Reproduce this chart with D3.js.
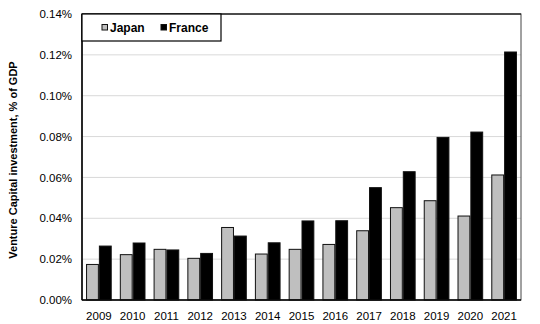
<!DOCTYPE html>
<html>
<head>
<meta charset="utf-8">
<script src="https://cdn.jsdelivr.net/npm/d3@7"></script>
<style>
  html, body { margin: 0; padding: 0; background: #fff; }
  svg { display: block; font-family: "Liberation Sans", Arial, sans-serif; }
</style>
</head>
<body>
<svg id="chart" width="540" height="324"></svg>
<script>
const years = ["2009","2010","2011","2012","2013","2014","2015","2016","2017","2018","2019","2020","2021"];
const japan = [0.0174,0.0222,0.0248,0.0204,0.0355,0.0225,0.0248,0.0272,0.0339,0.0452,0.0486,0.0411,0.0612];
const france = [0.0264,0.0279,0.0245,0.0228,0.0313,0.0280,0.0387,0.0388,0.0550,0.0628,0.0796,0.0822,0.1214];
const seriesNames = ["Japan","France"];
const seriesColors = ["#bfbfbf","#000000"];
const yTicks = [0,0.02,0.04,0.06,0.08,0.10,0.12,0.14];
const yTitle = "Venture Capital investment, % of GDP";

const svg = d3.select("#chart");
const L = 82, R = 521, T = 14, B = 300;

const x = d3.scaleBand().domain(years).range([L, R]).paddingInner(0.24).paddingOuter(0.12);
const xs = d3.scaleBand().domain(seriesNames).range([0, x.bandwidth()]);
const y = d3.scaleLinear().domain([0, 0.14]).range([B, T]);

// gridlines
svg.append("g").selectAll("line").data(yTicks.slice(1)).join("line")
  .attr("x1", L).attr("x2", R)
  .attr("y1", d => y(d)).attr("y2", d => y(d))
  .attr("stroke", "#d9d9d9").attr("stroke-width", 1);

// bars
const data = years.map((yr, i) => ({ yr, vals: [japan[i], france[i]] }));
const groups = svg.append("g").selectAll("g").data(data).join("g")
  .attr("transform", d => `translate(${x(d.yr)},0)`);
groups.selectAll("rect").data(d => d.vals.map((v, j) => ({ v, s: seriesNames[j], c: seriesColors[j] })))
  .join("rect")
  .attr("x", d => xs(d.s) + 0.5)
  .attr("width", xs.bandwidth() - 1)
  .attr("y", d => y(d.v))
  .attr("height", d => B - y(d.v))
  .attr("fill", d => d.c)
  .attr("stroke", "#111")
  .attr("stroke-width", 1);

// frame
svg.append("rect").attr("x", L).attr("y", T).attr("width", R - L).attr("height", B - T)
  .attr("fill", "none").attr("stroke", "#444").attr("stroke-width", 1);
svg.append("line").attr("x1", L).attr("x2", L).attr("y1", T).attr("y2", B)
  .attr("stroke", "#000").attr("stroke-width", 1.5);
svg.append("line").attr("x1", L).attr("x2", R).attr("y1", B).attr("y2", B)
  .attr("stroke", "#000").attr("stroke-width", 1.5);
svg.append("line").attr("x1", L).attr("x2", R).attr("y1", T).attr("y2", T)
  .attr("stroke", "#000").attr("stroke-width", 1.2);

// y axis labels (values are already in percent of GDP)
const yAxis = d3.axisLeft(y).tickValues(yTicks).tickSize(0).tickPadding(10)
  .tickFormat(d => d3.format(".2f")(d) + "%");
const gy = svg.append("g").attr("transform", `translate(${L},0)`).call(yAxis);
gy.select(".domain").remove();
gy.selectAll("text").attr("font-size", 11.5).attr("fill", "#000")
  .attr("font-family", "Liberation Sans, Arial, sans-serif");

// x axis labels
const xAxis = d3.axisBottom(x).tickSize(0).tickPadding(12);
const gx = svg.append("g").attr("transform", `translate(0,${B})`).call(xAxis);
gx.select(".domain").remove();
gx.selectAll("text").attr("font-size", 11.5).attr("fill", "#000")
  .attr("font-family", "Liberation Sans, Arial, sans-serif");

// y title
svg.append("text")
  .attr("transform", `translate(17,${(T + B) / 2 + 3}) rotate(-90)`)
  .attr("text-anchor", "middle")
  .attr("font-size", 11).attr("font-weight", "bold")
  .text(yTitle);

// legend
const lg = svg.append("g");
lg.append("rect").attr("x", L).attr("y", T).attr("width", 139).attr("height", 27)
  .attr("fill", "#fff").attr("stroke", "#000").attr("stroke-width", 1.2);
const legX = [102, 161];
seriesNames.forEach((s, i) => {
  lg.append("rect").attr("x", legX[i]).attr("y", 24.5).attr("width", 5.5).attr("height", 5.5)
    .attr("fill", seriesColors[i]).attr("stroke", "#111").attr("stroke-width", 1);
  lg.append("text").attr("x", legX[i] + 8).attr("y", 32)
    .attr("font-size", 12).attr("font-weight", "bold").text(s);
});
</script>
</body>
</html>
